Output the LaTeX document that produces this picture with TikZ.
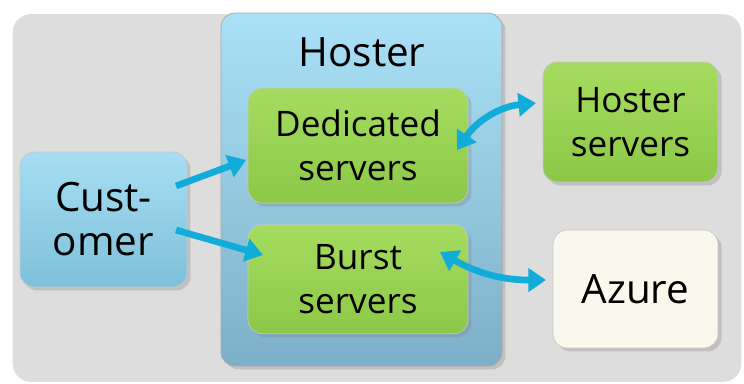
\documentclass[tikz,border=0pt]{standalone}
\usepackage{fontspec}
\setmainfont{Open Sans}
\usepackage{tikz}
\usetikzlibrary{arrows.meta,positioning,shadows}

\definecolor{bggray}{RGB}{221,221,221}
\definecolor{hosttop}{RGB}{170,225,246}
\definecolor{hostbot}{RGB}{125,176,200}
\definecolor{custtop}{RGB}{166,222,242}
\definecolor{custbot}{RGB}{126,192,218}
\definecolor{grtop}{RGB}{165,220,95}
\definecolor{grbot}{RGB}{140,200,72}
\definecolor{azfill}{RGB}{250,248,236}
\definecolor{linkblue}{RGB}{18,172,219}

\begin{document}
\begin{tikzpicture}[x=0.02cm,y=-0.02cm,
                    box/.style={rounded corners=8pt,draw=black!22,align=center,inner sep=0pt,
                      drop shadow={shadow xshift=2pt,shadow yshift=-2pt,opacity=.3}},
                    greenbox/.style={box,top color=grtop,bottom color=grbot,minimum width=4.4cm,
                      font=\fontsize{20}{25}\selectfont},
                    link/.style={line width=3.8pt,draw=linkblue,-{Triangle[width=13pt,length=10pt]}},
                    twoway/.style={link,{Triangle[width=13pt,length=10pt]}-{Triangle[width=13pt,length=10pt]}}]
  \useasboundingbox (0,0) rectangle (744,384);
  %\tikzstyle{every node}=[draw=red]

  \node[rounded corners=10pt,fill=bggray,draw=black!12,minimum width=14.56cm,minimum height=7.34cm]
        (bg) at (377,198) {};
  \node[box,top color=hosttop,bottom color=hostbot,draw=black!35,minimum width=5.62cm,minimum height=7.06cm]
        (host) at (361.5,189.5) {};
  \node[font=\fontsize{23}{28}\selectfont] (hostlbl) at (362,52) {Hoster};

  \node[greenbox,minimum height=2.3cm]  (ded)   at (358,145.5) {Dedicated\\servers};
  \node[greenbox,minimum height=2.18cm] (burst) [below=0.42cm of ded] {Burst\\servers};
  \node[box,top color=custtop,bottom color=custbot,minimum width=3.34cm,minimum height=2.7cm,
        font=\fontsize{23}{25}\selectfont] (cust) at (103.5,219.5) {Cust-\\omer};
  \node[greenbox,minimum width=3.5cm,minimum height=2.4cm] (hsrv) at (630.5,122) {Hoster\\servers};
  \node[box,fill=azfill,minimum width=3.3cm,minimum height=2.36cm,
        font=\fontsize{23}{28}\selectfont] (azure) at (635.5,289) {Azure};

  \coordinate (c1) at (176,186);
  \coordinate (c2) at (176,230);
  \coordinate (d1) at (246,160);
  \coordinate (d2) at (457,150);
  \coordinate (b1) at (263,255);
  \coordinate (b2) at (440,252);
  \coordinate (h1) at (536,103);
  \coordinate (a1) at (546,280);
  \path (c1) edge[link] (d1)
        (c2) edge[link] (b1)
        (d2) edge[twoway, bend left=25] (h1)
        (b2) edge[twoway, bend right=15] (a1);
\end{tikzpicture}
\end{document}
